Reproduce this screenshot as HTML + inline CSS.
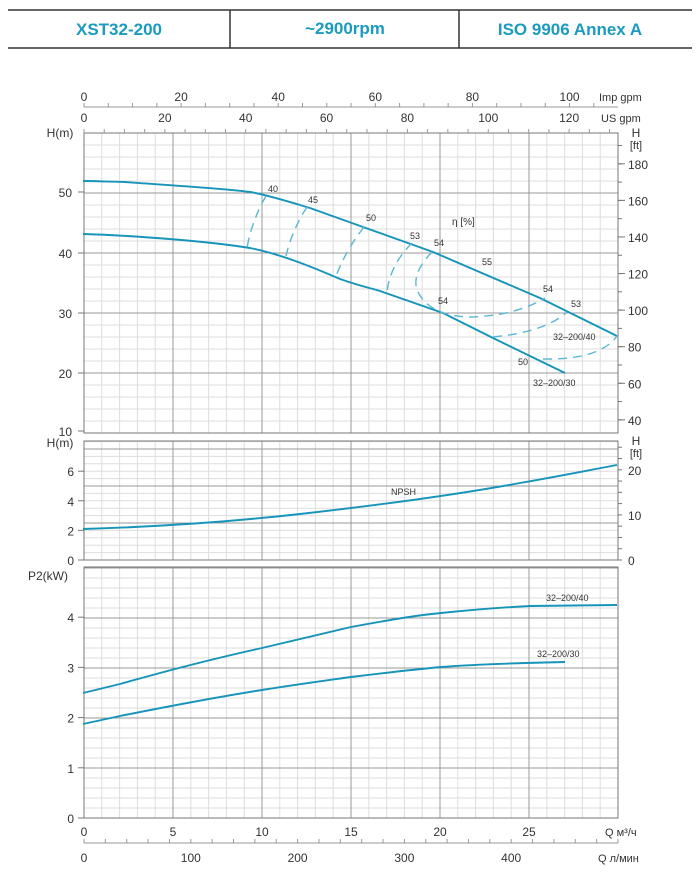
<!DOCTYPE html>
<html><head><meta charset="utf-8"><style>
body{margin:0;background:#fff;}
svg{display:block;font-family:"Liberation Sans",sans-serif;}
</style></head><body>
<svg id="s" width="700" height="876" xmlns="http://www.w3.org/2000/svg">
<rect width="700" height="876" fill="#fff"/>
<g stroke="#333" stroke-width="1.5">
<line x1="8" y1="10" x2="692" y2="10"/><line x1="8" y1="48" x2="692" y2="48"/>
<line x1="230" y1="10" x2="230" y2="48"/><line x1="459" y1="10" x2="459" y2="48"/>
</g>
<g fill="#1a9bbf" font-weight="bold" font-size="17" text-anchor="middle">
<text x="119" y="35">XST32-200</text><text x="345" y="34">~2900rpm</text><text x="570" y="35">ISO 9906   Annex A</text>
</g>
<g id="grid"></g>
<g fill="none" stroke="#1694b9" stroke-width="1.9">
<path d="M83,181 C100,181 115,182 125,182 C180,186 230,189 250,192 C268,195 290,202 310,208 L363,227 L433,252 L540,298 L617,336"/>
<path d="M83,234 C120,235 200,240 250,248 C280,254 310,266 340,279 C360,286 370,288 380,291 L443,313 L495,339 L565,373"/>
<path d="M83,529 C150,527 220,523 300,514 C380,505 460,494 520,483 C560,476 590,470 617,465"/>
<path d="M83,693 L120,684 C180,667 230,655 262,648 C300,639 330,632 351,627 C400,618 420,615 441,613 C480,609 510,607 530,606 L617,605"/>
<path d="M83,724 L120,716 C180,704 230,695 262,690 C300,684 330,680 351,677 C400,671 420,669 441,667 C480,664 520,663 565,662"/>
</g>
<g fill="none" stroke="#5ab7d3" stroke-width="1.4" stroke-dasharray="9,6">
<path d="M266,196 Q252,220 247,248"/>
<path d="M307,207 Q292,230 286,256"/>
<path d="M364,227 Q346,250 336,276"/>
<path d="M412,243 Q390,265 387,292"/>
<path d="M432,252 Q410,275 418,292 Q430,316 470,317 Q515,316 545,298"/>
<path d="M493,337 Q545,332 567,312"/>
<path d="M543,359 Q600,360 617,336"/>
</g>
<g font-size="9" fill="#333">
<text x="268" y="192">40</text><text x="308" y="203">45</text><text x="366" y="221">50</text>
<text x="410" y="239">53</text><text x="434" y="246">54</text><text x="452" y="225" font-size="10">η [%]</text>
<text x="482" y="265">55</text><text x="543" y="292">54</text><text x="571" y="307">53</text>
<text x="553" y="340">32–200/40</text><text x="438" y="304">54</text><text x="518" y="365">50</text>
<text x="533" y="386">32–200/30</text><text x="391" y="495">NPSH</text>
<text x="546" y="601">32–200/40</text><text x="537" y="657">32–200/30</text>
</g>
</svg>
<script>
const g=document.getElementById('grid');let h='';
const X=q=>84+q*534/30;
function L(x1,y1,x2,y2,c,w){h+=`<line x1="${x1}" y1="${y1}" x2="${x2}" y2="${y2}" stroke="${c}" stroke-width="${w||1}"/>`;}
function T(x,y,t,a,s){h+=`<text x="${x}" y="${y}" font-size="${s||12}" fill="#333" text-anchor="${a||'middle'}">${t}</text>`;}
function panel(top,bot,step){
 for(let y=bot;y>top+0.5;y-=step)L(84,y,618,y,'#ddd');
 for(let q=1;q<30;q++)L(X(q),top,X(q),bot,q%5?'#ddd':'#999');
 for(let y=bot;y>top+0.5;y-=step*5)L(84,y,618,y,'#999');
 h+=`<rect x="84" y="${top}" width="534" height="${bot-top}" fill="none" stroke="#777"/>`;
}
panel(133,433,12);panel(441,560,7.4);panel(567,818,10);
[[50,192],[40,253],[30,313],[20,373],[10,431]].forEach(a=>{T(72,a[1]+5,a[0],'end');L(78,a[1],84,a[1],'#777');});
T(60,137,'H(m)','middle');T(60,447,'H(m)','middle');T(48,580,'P2(kW)','middle');
[6,4,2,0].forEach(v=>{let y=560-v*14.8;T(74,y+5,v,'end');L(78,y,84,y,'#777');});
[4,3,2,1,0].forEach(v=>{let y=818-v*50.2;T(74,y+5,v,'end');L(78,y,84,y,'#777');});
for(let f=40;f<=190;f+=10){let y=433-(f*0.3048-10)*6;L(618,y,622,y,'#777');if(f%20==0&&f<=180){L(618,y,625,y,'#777');T(628,y+5,f,'start');}}
T(636,137,'H','middle');T(636,149,'[ft]','middle',11);
for(let f=0;f<=26;f+=2.5){let y=560-f*0.3048*14.8;L(618,y,622,y,'#777');}
[0,10,20].forEach(f=>{let y=560-f*0.3048*14.8;T(628,y+5,f,'start');});
T(636,445,'H','middle');T(636,457,'[ft]','middle',11);
L(84,107,618,107,'#999');
for(let v=0;v<=110;v+=5){let x=X(v/3.666);if(x<=618)L(x,103,x,107,'#999');if(v%20==0){T(x,101,v);}}
T(599,101,'Imp gpm','start',11);
for(let v=0;v<=130;v+=5){let x=X(v/4.403);if(x<=618)L(x,129,x,133,'#999');if(v%20==0&&v<=120)T(x,122,v);}
T(601,122,'US gpm','start',11);
[0,5,10,15,20,25].forEach(q=>T(X(q),836,q));T(605,836,'Q  м³/ч','start',11);
L(84,843,618,843,'#999');
for(let v=0;v<=500;v+=20){let x=X(v*0.06);if(x<=618)L(x,839,x,843,'#999');}
[0,100,200,300,400].forEach(v=>T(X(v*0.06),862,v));T(598,862,'Q  л/мин','start',11);
g.innerHTML=h;
</script>
</body></html>
